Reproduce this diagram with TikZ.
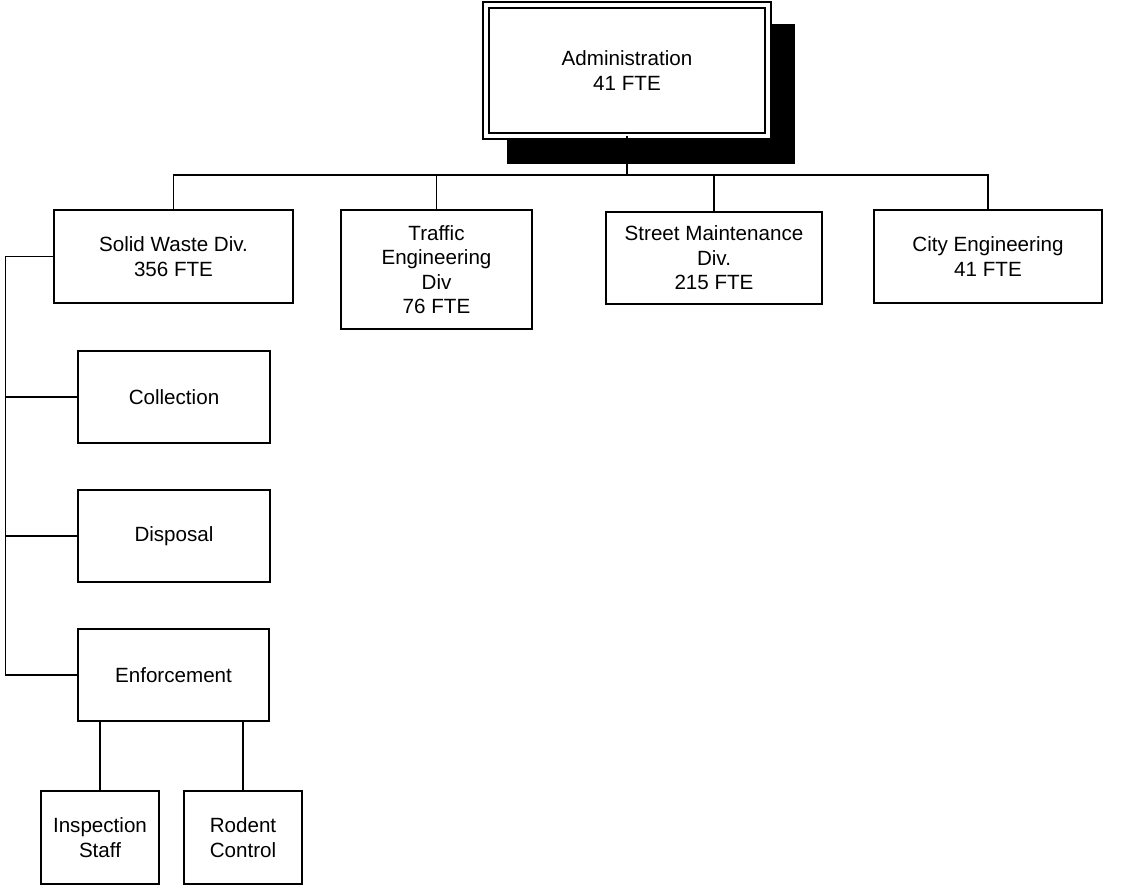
\documentclass[tikz,border=0pt]{standalone}
\usepackage{fontspec}
\setmainfont{Liberation Sans}
\usetikzlibrary{backgrounds}

\tikzset{
	unit/.style={draw, line width=1.6pt, fill=white, align=center, inner sep=0pt, outer sep=0pt, font=\fontsize{20.6}{24.5}\selectfont},
	link/.style={line width=1.8pt},
}

\begin{document}
\begin{tikzpicture}[x=1pt, y=-1pt]
		\useasboundingbox (0,0) rectangle (1130,888);
		
		% Leitung mit Schatten
		\node[unit, double, double distance=4pt, minimum width=282pt, minimum height=131pt] (admin) at (627,70.5) {Administration\\41 FTE};
		\begin{scope}[on background layer]
			\fill ([shift={(21,19)}]admin.north west) rectangle ([shift={(27,28)}]admin.south east);
		\end{scope}
		
		% Abteilungen
		\node[unit, minimum width=239pt, minimum height=93pt] (solid) at (173.5,256.5) {Solid Waste Div.\\356 FTE};
		\node[unit, minimum width=191pt, minimum height=119pt] (traffic) at (436.5,269.5) {Traffic\\Engineering\\Div\\76 FTE};
		\node[unit, minimum width=216pt, minimum height=92pt] (street) at (714,258) {Street Maintenance\\Div.\\215 FTE};
		\node[unit, minimum width=228pt, minimum height=93pt] (city) at (988,256.5) {City Engineering\\41 FTE};
		
		% Bereiche Solid Waste
		\node[unit, minimum width=192pt, minimum height=92pt] (coll) at (174,397) {Collection};
		\node[unit, minimum width=192pt, minimum height=92pt] (disp) at (174,536) {Disposal};
		\node[unit, minimum width=191pt, minimum height=92pt] (enf) at (173.5,675) {Enforcement};
		\node[unit, minimum width=118pt, minimum height=93pt] (insp) at (100,837.5) {Inspection\\Staff};
		\node[unit, minimum width=118pt, minimum height=93pt] (rodent) at (243,837.5) {Rodent\\Control};
		
		% Verbindungen oben
		\foreach \n in {solid,traffic,street,city}
			\draw[link] (admin.south) -- ++(0,39) -| (\n.north);
		
		% Verbindungen links
		\coordinate (spine) at (5.5,0);
		\draw[link] (solid.west) -| (spine |- enf.west) -- (enf.west);
		\foreach \n in {coll,disp}
			\draw[link] (\n.west) -- (spine |- \n.west);
		\foreach \n in {insp,rodent}
			\draw[link] (enf.south -| \n.north) -- (\n.north);
		
	\end{tikzpicture}
\end{document}
